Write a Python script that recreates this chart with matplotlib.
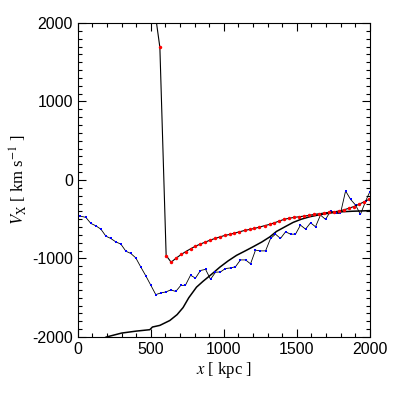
import matplotlib
matplotlib.use('Agg')
import matplotlib.pyplot as plt
from matplotlib.ticker import MultipleLocator

plt.rcParams['font.family'] = ['Liberation Sans', 'DejaVu Sans']
plt.rcParams['mathtext.fontset'] = 'stix'
plt.rcParams['axes.unicode_minus'] = False

# smooth black profile
prof_x = [150, 196, 300, 400, 493, 511, 562, 630, 680, 721, 760, 813, 858, 920, 973,
          1030, 1087, 1150, 1201, 1260, 1315, 1361, 1420, 1475, 1530, 1589, 1650, 1703,
          1760, 1817, 1880, 1932, 2000]
prof_y = [-2040, -2000, -1950, -1925, -1907, -1873, -1852, -1790, -1715, -1625, -1500, -1365,
          -1290, -1195, -1110, -1030, -960, -900, -850, -790, -725, -655, -595, -540, -500,
          -468, -445, -428, -413, -404, -398, -395, -390]

# red series
red_x = [528, 562, 605, 639, 673, 708, 740, 772, 806, 838, 872, 906, 940, 975, 1007, 1039,
         1073, 1107, 1142, 1176, 1210, 1244, 1279, 1313, 1347, 1381, 1415, 1449, 1483, 1517,
         1551, 1585, 1619, 1653, 1687, 1721, 1755, 1789, 1823, 1857, 1891, 1925, 1959, 1993]
red_y = [2150, 1690, -962, -1047, -996, -949, -911, -877, -843, -817, -792, -766, -745, -724,
         -706, -694, -677, -660, -643, -630, -617, -600, -582, -566, -545, -522, -500, -487,
         -476, -468, -460, -450, -438, -430, -420, -412, -405, -395, -380, -360, -338, -310,
         -280, -248]

# blue series
blue_x = [16, 55, 89, 123, 158, 192, 226, 260, 295, 329, 363, 397, 432, 466, 500, 534, 568,
          603, 637, 671, 705, 737, 772, 806, 840, 875, 909, 943, 977, 1011, 1046, 1080, 1114,
          1149, 1183, 1217, 1251, 1286, 1320, 1354, 1388, 1423, 1457, 1491, 1525, 1560, 1594,
          1628, 1662, 1697, 1731, 1765, 1799, 1834, 1868, 1902, 1936, 1971, 2000]
blue_y = [-460, -476, -553, -583, -626, -715, -745, -788, -817, -907, -936, -992, -1111,
          -1222, -1341, -1460, -1439, -1426, -1400, -1420, -1343, -1341, -1213, -1250, -1153,
          -1138, -1265, -1175, -1171, -1128, -1120, -1105, -1018, -1018, -1068, -894, -903,
          -903, -745, -690, -745, -660, -690, -690, -575, -626, -545, -596, -447, -502, -396,
          -426, -426, -140, -246, -319, -438, -270, -150]

fig = plt.figure(figsize=(3.93, 3.93), dpi=100)
ax = fig.add_axes([0.198, 0.1425, 0.743, 0.799])

ax.plot(prof_x, prof_y, color='black', lw=1.1)
ax.plot(blue_x, blue_y, color='black', lw=0.6)
ax.plot(blue_x, blue_y, 's', color='#0000ff', ms=1.7, mew=0, ls='none')
ax.plot(red_x, red_y, color='black', lw=0.8)
ax.plot(red_x, red_y, 'o', color='#ff0000', ms=2.5, mew=0, ls='none')

ax.set_xlim(0, 2000)
ax.set_ylim(-2000, 2000)
ax.xaxis.set_major_locator(MultipleLocator(500))
ax.xaxis.set_minor_locator(MultipleLocator(100))
ax.yaxis.set_major_locator(MultipleLocator(1000))
ax.yaxis.set_minor_locator(MultipleLocator(100))
ax.tick_params(which='both', direction='in', top=True, right=True, width=0.8, labelsize=11.5)
ax.tick_params(which='major', length=6)
ax.tick_params(which='minor', length=3)
for s in ax.spines.values():
    s.set_linewidth(0.8)

ax.set_xlabel(r'$x$ [ kpc ]', fontsize=12, family='Liberation Serif', labelpad=2)
ax.set_ylabel(r'$V_{\rm X}$ [ km s$^{-1}$ ]', fontsize=12, family='Liberation Serif', labelpad=2)

fig.savefig('out.png', dpi=100)
